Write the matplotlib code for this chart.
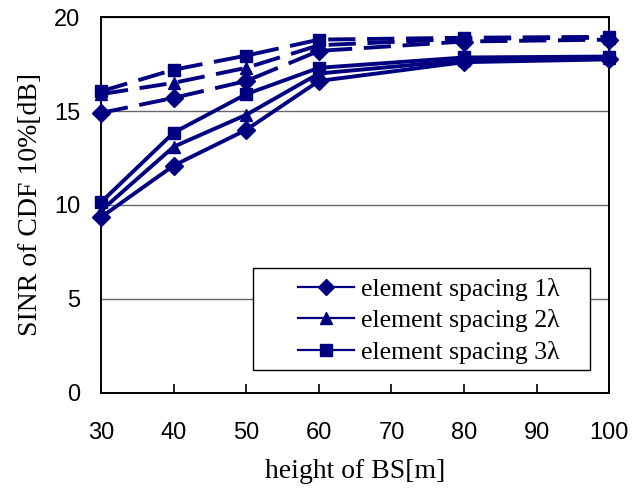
import numpy as np
import matplotlib
matplotlib.use('Agg')
import matplotlib.pyplot as plt
from matplotlib.patches import Rectangle

# height of BS [m]
heights = [30, 40, 50, 60, 80, 100]

# solid lines
sol_1 = [9.35, 12.1, 14.0, 16.6, 17.6, 17.75]
sol_2 = [9.7, 13.1, 14.8, 17.0, 17.7, 17.8]
sol_3 = [10.15, 13.85, 15.9, 17.3, 17.85, 17.9]
# dashed lines
dash_1 = [14.9, 15.7, 16.6, 18.2, 18.7, 18.8]
dash_2 = [15.9, 16.5, 17.3, 18.5, 18.85, 18.9]
dash_3 = [16.05, 17.2, 17.95, 18.8, 18.9, 18.95]

labels = ['element spacing 1\u03bb', 'element spacing 2\u03bb', 'element spacing 3\u03bb']
markers = ['D', '^', 's']
navy = '#000080'

fig = plt.figure(figsize=(6.4, 4.88), dpi=100)
ax = fig.add_axes([0.158, 0.195, 0.794, 0.770])

for i, (s, d) in enumerate(zip([sol_1, sol_2, sol_3], [dash_1, dash_2, dash_3])):
    ax.plot(heights, s, color=navy, lw=2.8, marker=markers[i], ms=9,
            label=labels[i], clip_on=False, zorder=3)
    ax.plot(heights, d, color=navy, lw=2.8, ls=(0, (7, 3)), marker=markers[i],
            ms=9, clip_on=False, zorder=3)

ax.set_xlim(30, 100)
ax.set_ylim(0, 20)
ax.set_xticks(np.arange(30, 101, 10))
ax.set_yticks(np.arange(0, 21, 5))
ax.yaxis.grid(True, color='#666666', lw=1.0)
ax.set_axisbelow(True)
for sp in ax.spines.values():
    sp.set_linewidth(1.4)
ax.tick_params(axis='x', direction='in', length=6.5, width=1.2, pad=21, labelsize=17)
ax.tick_params(axis='y', length=0, pad=15, labelsize=17)
for t in ax.get_xticklabels() + ax.get_yticklabels():
    t.set_family('Liberation Sans')

ax.set_xlabel('height of BS[m]', family='Liberation Serif', fontsize=20, labelpad=11)
ax.set_ylabel('SINR of CDF 10%[dB]', family='Liberation Serif', fontsize=20, labelpad=8)

# legend frame drawn separately (wide side padding like the original)
ax.add_patch(Rectangle((0.299, 0.061), 0.664, 0.271, transform=ax.transAxes,
                       facecolor='white', edgecolor='black', lw=1.0, zorder=4))
leg_handles = [plt.Line2D([], [], color=navy, lw=1.6, marker=m, ms=8) for m in markers]
leg = ax.legend(leg_handles, labels, loc='center', bbox_to_anchor=(0.644, 0.192),
                prop={'family': 'Liberation Serif', 'size': 18.5}, frameon=False,
                handlelength=2.2, borderpad=0, labelspacing=0.33, handletextpad=0.25)
leg.set_zorder(5)

fig.savefig('out.png', dpi=100)
